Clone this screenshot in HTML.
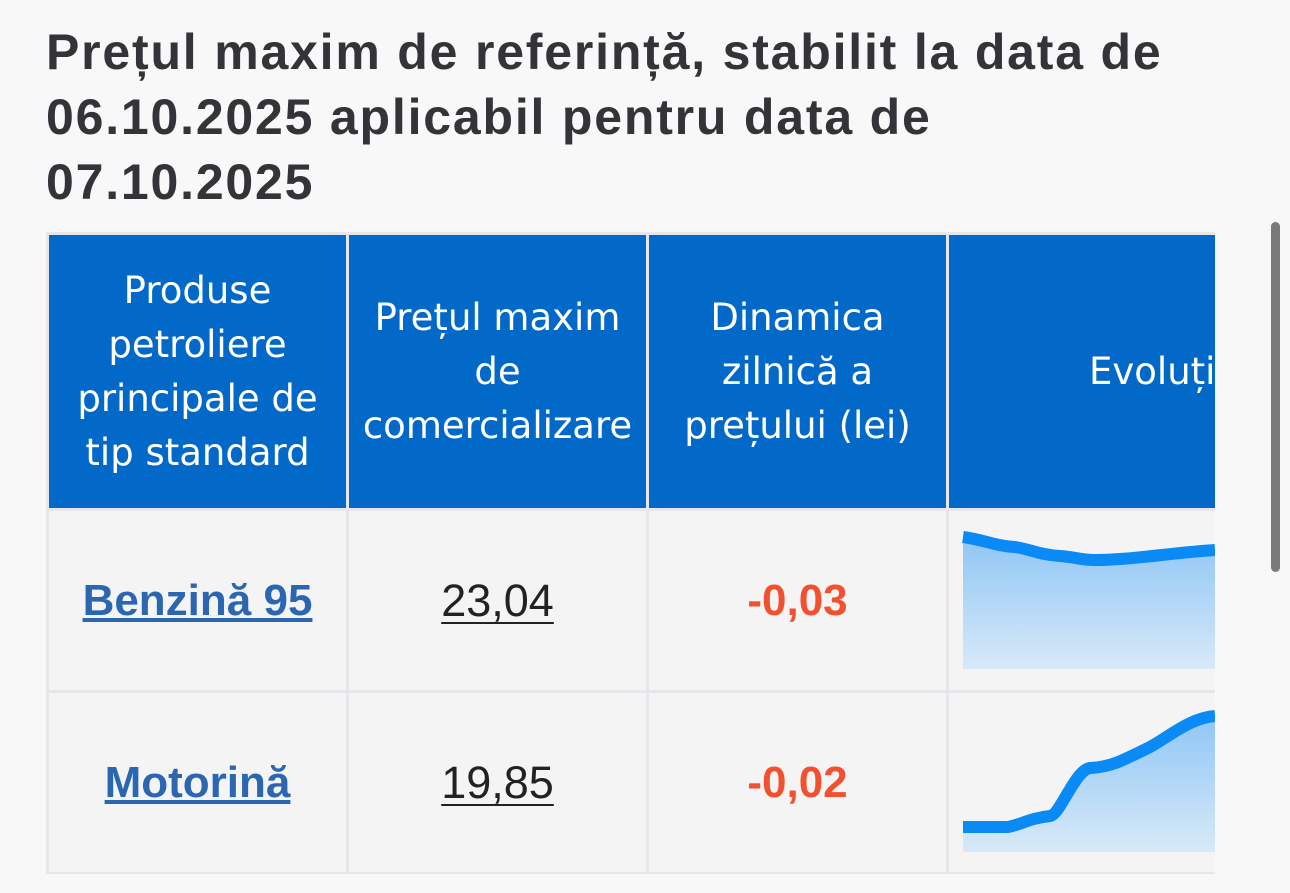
<!DOCTYPE html>
<html><head><meta charset="utf-8"><style>
html,body{margin:0;padding:0;width:1290px;height:893px;overflow:hidden;background:#f8f8f9;font-family:"Liberation Sans",sans-serif;}
h1{position:absolute;left:46px;top:20px;margin:0;font-size:50px;line-height:65px;font-weight:bold;color:#333338;width:1240px;letter-spacing:1.8px;white-space:nowrap}
.wrap{position:absolute;left:46px;top:232px;width:1169px;height:642px;overflow:hidden;}
table{border-collapse:collapse;table-layout:fixed;width:1240px;}
td,th{border:3px solid #e6e6eb;padding:0;text-align:center;}
th{background:#0369c9;color:#fff;font-weight:normal;line-height:54px;height:273px;font-family:"DejaVu Sans","Liberation Sans",sans-serif;font-size:37px;white-space:nowrap}
td{background:#f4f4f5;height:179px;}
.n a{color:#2b66b0;font-weight:bold;text-decoration:underline;font-size:44px;}
.p{color:#222;text-decoration:underline;text-decoration-thickness:2px;text-underline-offset:6px;font-size:45px}
.d{color:#f2502e;font-weight:bold;font-size:44px}
.sb{position:absolute;left:1271px;top:222px;width:9px;height:350px;background:#7a7a7a;border-radius:5px}
</style></head><body>
<h1>Prețul maxim de referință, stabilit la data de<br>06.10.2025 aplicabil pentru data de<br>07.10.2025</h1>
<div class="wrap"><table>
<colgroup><col style="width:300px"><col style="width:300px"><col style="width:300px"><col style="width:340px"></colgroup>
<tr><th>Produse<br>petroliere<br>principale de<br>tip standard</th><th>Prețul maxim<br>de<br>comercializare</th><th>Dinamica<br>zilnică a<br>prețului (lei)</th><th style="text-align:left;padding-left:140px">Evoluția</th></tr>
<tr><td class="n"><a>Benzină 95</a></td><td><span class="p">23,04</span></td><td class="d">-0,03</td><td></td></tr>
<tr><td class="n"><a>Motorină</a></td><td><span class="p">19,85</span></td><td class="d">-0,02</td><td></td></tr>
</table></div>
<svg style="position:absolute;left:0;top:0" width="1215" height="893">
<defs><linearGradient id="g" x1="0" y1="0" x2="0" y2="1"><stop offset="0" stop-color="#8fc6f5"/><stop offset="1" stop-color="#d8e9f8"/></linearGradient></defs>
<path d="M963,537 C985,540 995,546 1015,547 C1030,549 1040,555 1060,556 C1075,557 1080,560 1095,560 C1130,560 1170,553 1215,550 L1215,669 L963,669Z" fill="url(#g)"/>
<path d="M963,537 C985,540 995,546 1015,547 C1030,549 1040,555 1060,556 C1075,557 1080,560 1095,560 C1130,560 1170,553 1215,550" fill="none" stroke="#0a8af5" stroke-width="12"/>
<path d="M963,827 L1008,827 C1020,825 1030,818 1050,816 C1060,815 1075,770 1090,768 C1110,767 1120,762 1150,747 C1170,736 1190,718 1215,716 L1215,852 L963,852Z" fill="url(#g)"/>
<path d="M963,827 L1008,827 C1020,825 1030,818 1050,816 C1060,815 1075,770 1090,768 C1110,767 1120,762 1150,747 C1170,736 1190,718 1215,716" fill="none" stroke="#0a8af5" stroke-width="12"/>
</svg>
<div class="sb"></div>
</body></html>
